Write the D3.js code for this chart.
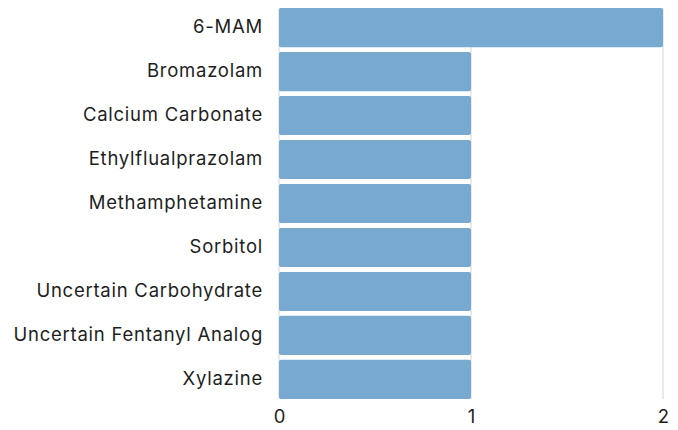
<!DOCTYPE html>
<html>
<head>
<meta charset="utf-8">
<script src="https://cdn.jsdelivr.net/npm/d3@7"></script>
<style>
  body { margin: 0; background: #fff; }
  svg text { font-family: "Inter", "DejaVu Sans", sans-serif; fill: #1e1e1e; }
  .grid line { stroke: #d6d6d6; stroke-width: 1; }
</style>
</head>
<body>
<div id="vis1"></div>
<script>
var categories = ["6-MAM", "Bromazolam", "Calcium Carbonate", "Ethylflualprazolam",
    "Methamphetamine", "Sorbitol", "Uncertain Carbohydrate",
    "Uncertain Fentanyl Analog", "Xylazine"];
var counts = [2, 1, 1, 1, 1, 1, 1, 1, 1];
var xTicks = [0, 1, 2];

var width = 678, height = 430;
var margin = {top: 8, right: 15, bottom: 31, left: 279};

var svg = d3.select("#vis1").append("svg")
    .attr("width", width)
    .attr("height", height);

var xScale = d3.scaleLinear()
    .domain([0, 2])
    .range([margin.left, width - margin.right]);

var yScale = d3.scaleBand()
    .domain(categories)
    .range([margin.top, height - margin.bottom])
    .paddingInner(0.11)
    .paddingOuter(0);

// vertical grid lines
svg.append("g")
    .attr("class", "grid")
    .selectAll("line")
    .data(xTicks)
    .enter().append("line")
    .attr("x1", function(d) { return xScale(d); })
    .attr("x2", function(d) { return xScale(d); })
    .attr("y1", margin.top)
    .attr("y2", height - margin.bottom);

var data = categories.map(function(c, i) { return {name: c, value: counts[i]}; });

svg.append("g")
    .selectAll("rect")
    .data(data)
    .enter().append("rect")
    .attr("x", xScale(0))
    .attr("y", function(d) { return yScale(d.name); })
    .attr("width", function(d) { return xScale(d.value) - xScale(0); })
    .attr("height", yScale.bandwidth())
    .attr("rx", 2)
    .attr("fill", "#78a9d1");

// y labels
var yAxis = svg.append("g")
    .attr("transform", "translate(" + (margin.left - 6) + ",0)")
    .call(d3.axisLeft(yScale).tickSize(0).tickPadding(10));
yAxis.select(".domain").remove();
yAxis.selectAll("text")
    .style("font-size", "18.5px")
    .style("letter-spacing", "0.75px")
    .attr("fill", "#1e1e1e");

// x labels
var xAxis = svg.append("g")
    .attr("transform", "translate(0," + (height - margin.bottom) + ")")
    .call(d3.axisBottom(xScale).tickValues(xTicks).tickFormat(d3.format("d")).tickSize(0).tickPadding(11));
xAxis.select(".domain").remove();
xAxis.selectAll("text")
    .style("font-size", "18.5px")
    .attr("fill", "#1e1e1e");
</script>
</body>
</html>
